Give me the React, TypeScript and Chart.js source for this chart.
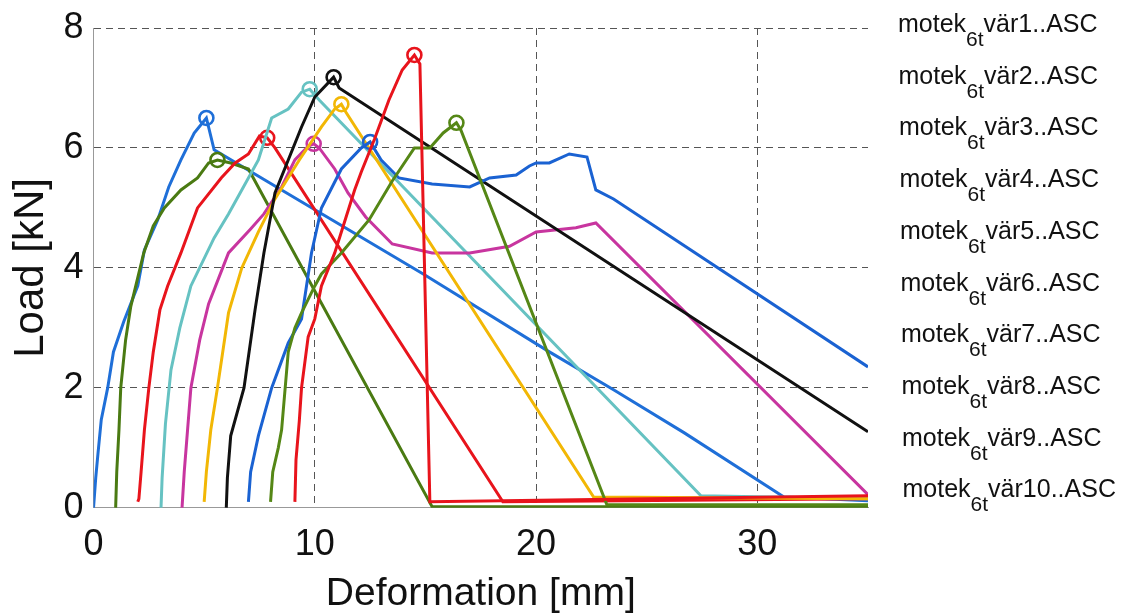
import React, { useEffect, useRef } from "react";
import { Chart, registerables } from "chart.js";

Chart.register(...registerables);

// ---- data (Deformation [mm], Load [kN]) ----
const v1x = [0, 0.1, 0.2, 0.35, 0.64, 0.9, 1.36, 2.0, 2.3, 2.9, 3.4, 3.95, 4.55, 5.1, 5.45, 8.5, 14.9, 20.6, 23.5, 26.7, 31.2, 35];
const v1y = [0, 0.5, 0.9, 1.47, 2.0, 2.6, 3.1, 3.7, 4.3, 4.8, 5.35, 5.8, 6.25, 6.5, 5.97, 5.3, 3.9, 2.6, 1.97, 1.25, 0.18, 0.12];

const v2x = [1.0, 1.05, 1.15, 1.23, 1.45, 1.68, 2.27, 2.7, 3.2, 3.95, 4.7, 5.2, 5.6, 6.2, 7.0, 15.3, 35];
const v2y = [0, 0.6, 1.3, 2.0, 2.8, 3.35, 4.25, 4.7, 5.0, 5.3, 5.5, 5.75, 5.8, 5.75, 5.65, 0.02, 0.02];

const v3x = [2.0, 2.05, 2.15, 2.3, 2.5, 2.7, 3.0, 3.35, 3.95, 4.7, 5.77, 6.4, 7.0, 7.5, 7.85, 8.2, 18.5, 35];
const v3y = [0.1, 0.15, 0.6, 1.3, 2.0, 2.6, 3.3, 3.7, 4.25, 5.0, 5.5, 5.75, 5.9, 6.2, 6.17, 6.0, 0.1, 0.15];

const v4x = [3.05, 3.1, 3.25, 3.5, 3.9, 4.4, 5.45, 6.1, 6.7, 7.45, 8.05, 8.8, 9.4, 9.77, 10.2, 27.45, 35];
const v4y = [0, 0.5, 1.4, 2.3, 3.0, 3.7, 4.5, 4.9, 5.3, 5.8, 6.5, 6.65, 6.93, 6.98, 6.8, 0.2, 0.15];

const v5x = [4.0, 4.1, 4.25, 4.4, 4.8, 5.2, 6.1, 7.1, 7.7, 8.5, 9.1, 9.7, 9.95, 10.2, 10.9, 11.5, 12.3, 13.5, 15.3, 17.0, 18.8, 20.0, 21.8, 22.7, 35];
const v5y = [0, 0.6, 1.3, 2.0, 2.8, 3.4, 4.25, 4.65, 4.9, 5.35, 5.8, 6.03, 6.07, 6.0, 5.65, 5.25, 4.85, 4.4, 4.25, 4.25, 4.36, 4.6, 4.67, 4.75, 0.22];

const v6x = [5.0, 5.1, 5.3, 5.6, 6.1, 6.7, 7.45, 8.2, 9.3, 10.3, 10.9, 11.2, 11.4, 22.6, 35];
const v6y = [0.1, 0.6, 1.3, 2.0, 3.25, 4.0, 4.6, 5.15, 5.8, 6.35, 6.65, 6.73, 6.6, 0.18, 0.15];

const v7x = [6.0, 6.05, 6.2, 6.8, 7.3, 7.7, 8.2, 8.8, 9.4, 10.0, 10.85, 11.1, 35];
const v7y = [0, 0.5, 1.2, 2.0, 3.3, 4.25, 5.25, 5.8, 6.35, 6.85, 7.18, 7.0, 1.27];

const v8x = [7.0, 7.1, 7.45, 8.05, 8.8, 9.4, 9.85, 10.3, 11.2, 12.1, 12.5, 13.0, 13.8, 15.3, 17.0, 17.9, 19.1, 19.7, 20.0, 20.6, 21.5, 22.3, 22.7, 23.5, 35];
const v8y = [0.1, 0.6, 1.2, 2.0, 2.75, 3.15, 4.25, 5.0, 5.65, 6.0, 6.1, 5.8, 5.5, 5.4, 5.35, 5.5, 5.55, 5.7, 5.75, 5.75, 5.9, 5.85, 5.3, 5.15, 2.35];

const v9x = [8.0, 8.1, 8.35, 8.5, 8.8, 9.1, 9.4, 10.0, 10.3, 11.2, 12.45, 13.5, 14.5, 15.2, 15.8, 16.4, 16.6, 23.2, 35];
const v9y = [0.1, 0.6, 1.0, 1.3, 2.6, 3.0, 3.25, 3.7, 3.9, 4.25, 4.8, 5.45, 6.0, 6.0, 6.25, 6.42, 6.3, 0.05, 0.05];

const v10x = [9.1, 9.15, 9.3, 9.4, 9.7, 10.0, 10.3, 10.9, 11.2, 11.8, 12.1, 12.7, 13.35, 13.95, 14.5, 14.75, 15.2, 35];
const v10y = [0.1, 0.8, 1.45, 2.0, 2.85, 3.15, 3.7, 4.25, 4.6, 5.3, 5.6, 6.15, 6.8, 7.3, 7.55, 7.4, 0.1, 0.2];

const seriesX = [v1x, v2x, v3x, v4x, v5x, v6x, v7x, v8x, v9x, v10x];
const seriesY = [v1y, v2y, v3y, v4y, v5y, v6y, v7y, v8y, v9y, v10y];
const peakIndex = [13, 12, 14, 13, 12, 11, 10, 10, 15, 14];

const seriesColors = ["#1f6fd8", "#4a7a12", "#e8141c", "#66c2c2", "#c8359f", "#f2b705", "#111111", "#1a62d2", "#558716", "#e8141c"];
const legendPrefix = "motek";
const legendSub = "6t";
const legendSuffix = ["vär1..ASC", "vär2..ASC", "vär3..ASC", "vär4..ASC", "vär5..ASC", "vär6..ASC", "vär7..ASC", "vär8..ASC", "vär9..ASC", "vär10..ASC"];

const xTitle = "Deformation [mm]";
const yTitle = "Load [kN]";

const FONT = "'Liberation Sans', Arial, Helvetica, sans-serif";

export default function App() {
  const ref = useRef<HTMLCanvasElement | null>(null);

  useEffect(() => {
    if (!ref.current) return;
    const datasets = seriesX.map((xs, i) => {
      const pk = peakIndex[i];
      return {
        label: legendPrefix + legendSub + legendSuffix[i],
        data: xs.map((x, j) => ({ x, y: seriesY[i][j] })),
        borderColor: seriesColors[i],
        borderWidth: 3,
        tension: 0,
        fill: false,
        order: 10 - i,
        pointRadius: (ctx: any) => (ctx.dataIndex === pk ? 7 : 0),
        pointHoverRadius: (ctx: any) => (ctx.dataIndex === pk ? 7 : 0),
        pointBorderWidth: 2.6,
        pointBorderColor: seriesColors[i],
        pointBackgroundColor: "rgba(0,0,0,0)",
      };
    });

    const chart = new Chart(ref.current, {
      type: "line",
      data: { datasets },
      options: {
        animation: false,
        responsive: false,
        maintainAspectRatio: false,
        layout: { padding: { left: 0, right: 267, top: 27, bottom: 0 } },
        plugins: {
          legend: { display: false },
          tooltip: { enabled: false },
        },
        events: [],
        scales: {
          x: {
            type: "linear",
            min: 0,
            max: 35,
            ticks: {
              stepSize: 10,
              includeBounds: false,
              color: "#111",
              padding: 19,
              maxRotation: 0,
              font: { family: FONT, size: 36, lineHeight: 1 },
            },
            grid: { color: "#555", lineWidth: 1, drawTicks: false },
            border: { display: true, color: "#999", width: 1, dash: [7, 5] },
            title: {
              display: true,
              text: xTitle,
              color: "#111",
              font: { family: FONT, size: 39, lineHeight: 0.65 },
              padding: { top: 0, bottom: 8.8 },
            },
          },
          y: {
            type: "linear",
            min: 0,
            max: 8,
            ticks: {
              stepSize: 2,
              color: "#111",
              padding: 10,
              font: { family: FONT, size: 36, lineHeight: 1 },
            },
            grid: { color: "#555", lineWidth: 1, drawTicks: false },
            border: { display: true, color: "#999", width: 1, dash: [7, 5] },
            title: {
              display: true,
              text: yTitle,
              color: "#111",
              font: { family: FONT, size: 42, lineHeight: 1 },
              padding: { top: 10, bottom: 1.5 },
            },
          },
        },
      },
    });
    return () => chart.destroy();
  }, []);

  return (
    <div style={{ position: "absolute", left: 0, top: 0, width: 1135, height: 616, background: "#fff" }}>
      <canvas ref={ref} width={1135} height={616} style={{ position: "absolute", left: 0, top: 0, width: 1135, height: 616 }} />
      {legendSuffix.map((s, i) => (
        <div
          key={i}
          style={{
            position: "absolute",
            left: 898 + i * 0.5,
            top: 11 + i * 51.7,
            fontFamily: FONT,
            fontSize: 25,
            lineHeight: "25px",
            color: "#111",
            whiteSpace: "nowrap",
          }}
        >
          {legendPrefix}
          <span style={{ fontSize: 21, position: "relative", top: 14 }}>{legendSub}</span>
          {s}
        </div>
      ))}
    </div>
  );
}
